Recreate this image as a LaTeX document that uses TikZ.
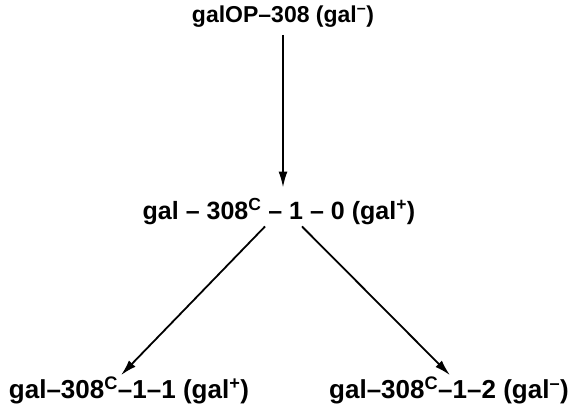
\documentclass[tikz,border=0pt]{standalone}
\usepackage{fontspec}
\setmainfont{Liberation Sans}
\usepackage{tikz}
\usetikzlibrary{positioning, calc, arrows.meta}

\tikzset{
    strain/.style={font=\bfseries\fontsize{25}{29}\selectfont, inner sep=1pt},
    arr/.style={-{Latex[length=16pt, width=9pt]}, line width=1.8pt}
}

\newcommand{\galplus}{gal\textsuperscript{+}}
\newcommand{\galminus}{gal\textsuperscript{--}}

\begin{document}
\begin{tikzpicture}[x=1pt, y=-1pt]
    \useasboundingbox (0, 0) rectangle (573, 407);

    % Parent strain
    \node[strain, font=\bfseries\fontsize{23}{27}\selectfont] (parent) at (283, 17) {galOP--308 (\galminus)};

    % Revertant
    \node[strain] (rev) at (279, 212) {gal -- 308\textsuperscript{C} -- 1 -- 0 (\galplus)};

    % Segregants
    \node[strain, font=\bfseries\fontsize{26}{30}\selectfont] (segone) at (129, 390) {gal--308\textsuperscript{C}--1--1 (\galplus)};
    \node[strain, font=\bfseries\fontsize{26}{30}\selectfont] (segtwo) at (449, 390) {gal--308\textsuperscript{C}--1--2 (\galminus)};

    % Arrows
    \draw[arr, shorten <=6pt, shorten >=10pt] (parent.south) -- (parent.south |- rev.north);
    \draw[arr] ([xshift=-14pt]rev.south) -- ([xshift=-8pt]segone.north);
    \draw[arr] ([xshift=23pt]rev.south) -- ([xshift=1pt]segtwo.north);
\end{tikzpicture}
\end{document}
